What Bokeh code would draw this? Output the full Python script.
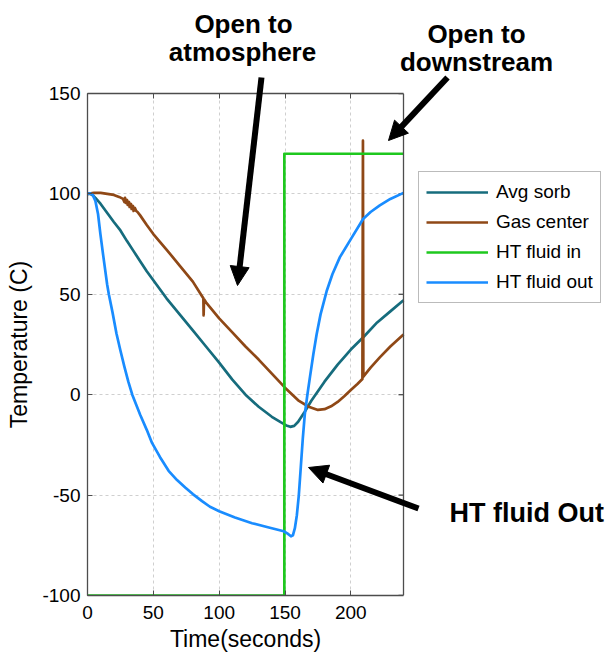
import math
from bokeh.plotting import figure
from bokeh.models import (Range1d, LinearAxis, Legend, LegendItem, FixedTicker,
                          ColumnDataSource, Span, Grid)
from bokeh.core.properties import value
from bokeh.embed import file_html
from bokeh.resources import INLINE

# ---------------- data ----------------
x_ticks = [0, 50, 100, 150, 200]
y_ticks = [-100, -50, 0, 50, 100, 150]
y_tick_labels = ["-100", "-50", "0", "50", "100", "150"]
x_title = "Time(seconds)"
y_title = "Temperature (C)"

avg_t = [0, 2, 4, 6, 8, 10, 15, 20, 25, 30, 35, 40, 45, 50, 55, 60, 70, 80, 90, 100,
         110, 120, 130, 140, 147, 151, 154, 157, 160, 165, 170, 180, 190, 200, 210,
         220, 230, 240]
avg_sorb = [100, 100, 99.3, 98, 96.5, 95, 90.5, 86, 81.8, 76.5, 71.5, 66.5, 61.5, 57,
            52.5, 48, 40, 32, 24, 16, 7.5, 0, -6, -11, -13.8, -15.3, -16, -15.5,
            -13.5, -8.5, -3, 6.5, 15, 22.5, 29, 36, 41.5, 47]

gas_t = [0, 5, 10, 15, 20, 24, 27, 28, 28.5, 29, 30, 30.5, 31.5, 32, 33, 33.5, 34.5,
         35, 36, 37, 38, 40, 45, 50, 60, 70, 80, 87, 88, 88.2, 88.5, 89.5, 90, 100, 110,
         120, 130, 140, 150, 160, 168, 175, 180, 185, 190, 195, 200, 205, 208.8, 209.2,
         209.5, 215, 222, 230, 240]
gas_center = [100, 100.5, 100.5, 100, 99.5, 98.5, 97.5, 96, 98, 95.5, 97, 94.5, 96,
              93.5, 95, 92.5, 94, 91.5, 93, 91.5, 91, 89.3, 84.5, 80, 72.3, 64.3, 56.3,
              49, 48, 39.5, 47.5, 46.5, 46, 38, 31, 24, 17.5, 10.5, 3.5, -2.8, -6, -7.6,
              -7.2, -5.8, -3.6, -0.8, 2.3, 5.3, 7.8, 126.5, 9, 13.5, 18.6, 24, 30]

fin_t = [0, 149.5, 149.5, 240]
ht_fluid_in = [-100, -100, 120, 120]

fout_t = [0, 2, 4, 6, 8, 9.8, 12, 14.9, 16.2, 19, 22, 25, 28, 31, 34, 37, 40, 45, 49,
          55, 61.6, 68, 74.2, 80, 87, 93, 100, 112, 125, 137, 149, 152, 154.5, 156,
          157.5, 159, 160.5, 162, 163.5, 165, 167, 169, 171.5, 174, 177, 181.6, 186,
          191.7, 200, 209.3, 215, 222, 230, 240]
ht_fluid_out = [100, 100.3, 99.5, 96.5, 90, 80, 69, 55, 50, 41, 30.5, 22, 14, 6.5, 0,
                -5, -10, -17.5, -24, -31, -37.9, -42.5, -46.2, -49.5, -53, -55.8, -58,
                -61.2, -64, -66, -68, -69.2, -70.5, -70, -66.5, -60, -50, -36, -22,
                -10, 0, 9, 20, 30, 40, 51.5, 60, 68.5, 77.5, 87.5, 91, 94.3, 97.5,
                100.5]

series_names = ["Avg sorb", "Gas center", "HT fluid in", "HT fluid out"]
series_colors = ["#166c7d", "#8f4816", "#1ec81e", "#198cff"]

# ---------------- geometry ----------------
FONT = "Liberation Sans"
W, H = 612, 652
FL, FR, FT, FB = 87, 403, 93, 595          # axes box edges in pixels
X0, X1, Y0, Y1 = 0, 240, -100, 150         # axes limits
XPX = (FR - FL) / (X1 - X0)                # pixels per x unit
YPX = (FB - FT) / (Y1 - Y0)                # pixels per y unit
# plotting frame extends to the right edge of the page so the legend is not clipped
x_end = X1 + (W - FR) / XPX

p = figure(width=W, height=H, x_range=Range1d(X0, x_end), y_range=Range1d(Y0, Y1),
           output_backend="svg", toolbar_location=None,
           min_border_left=FL, min_border_right=0, min_border_top=FT,
           min_border_bottom=H - FB)
p.background_fill_color = "white"
p.border_fill_color = "white"
p.outline_line_color = None

AX = "#4d4d4d"
for ax in (p.xaxis[0], p.yaxis[0]):
    ax.axis_line_color = AX
    ax.axis_line_width = 1.3
    ax.major_tick_line_color = AX
    ax.major_tick_in = 5
    ax.major_tick_out = 0
    ax.minor_tick_line_color = None
    ax.major_label_text_font = FONT
    ax.major_label_text_font_size = "19px"
    ax.major_label_text_color = "black"
    ax.axis_label_text_font = FONT
    ax.axis_label_text_font_size = "23px"
    ax.axis_label_text_font_style = "normal"
    ax.axis_label_text_color = "black"

p.xaxis.ticker = FixedTicker(ticks=x_ticks)
p.xaxis.bounds = (X0, X1)
p.yaxis.ticker = FixedTicker(ticks=y_ticks)
p.yaxis.major_label_overrides = {t: s for t, s in zip(y_ticks, y_tick_labels)}
p.yaxis.axis_label = y_title
p.xaxis.major_label_standoff = 10
p.yaxis.major_label_standoff = 7
p.yaxis.axis_label_standoff = 7

top_ax = LinearAxis(ticker=FixedTicker(ticks=x_ticks), bounds=(X0, X1), axis_line_color=AX,
                    axis_line_width=1.3, major_tick_line_color=AX, major_tick_in=5,
                    major_tick_out=0, minor_tick_line_color=None,
                    major_label_text_font_size="1px", major_label_text_color=None,
                    major_label_standoff=0)
p.add_layout(top_ax, "above")

# right edge of the axes box with inward ticks
p.add_layout(Span(location=X1, dimension="height", line_color=AX, line_width=1.3))
tick_len = 5 / XPX
p.segment(x0=[X1 - tick_len] * len(y_ticks), y0=y_ticks, x1=[X1] * len(y_ticks),
          y1=y_ticks, line_color=AX, line_width=1.3)

p.xgrid.ticker = FixedTicker(ticks=x_ticks)
p.ygrid.ticker = FixedTicker(ticks=y_ticks)
for g in (p.xgrid[0], p.ygrid[0]):
    g.grid_line_color = "#cfcfcf"
    g.grid_line_dash = "3 3"
    g.grid_line_width = 1
if "cross_bounds" in Grid.properties():
    p.ygrid[0].cross_bounds = (X0, X1)

sources = [(avg_t, avg_sorb), (gas_t, gas_center), (fin_t, ht_fluid_in), (fout_t, ht_fluid_out)]
renderers = []
for (tt, vv), c in zip(sources, series_colors):
    src = ColumnDataSource(dict(t=tt, v=vv))
    r = p.line("t", "v", source=src, line_color=c, line_width=2.7, line_join="round")
    renderers.append(r)

legend = Legend(items=[LegendItem(label=n, renderers=[r]) for n, r in zip(series_names, renderers)],
                location=(331, 292), margin=0, padding=7, spacing=4,
                glyph_width=62, glyph_height=26, label_standoff=8,
                label_text_font=FONT, label_text_font_size="19px", label_text_color="black",
                border_line_color="#777777", border_line_width=1.2,
                background_fill_color="white", background_fill_alpha=1)
p.add_layout(legend, "center")

# ---------------- texts placed in pixels, drawn above everything ----------------
def to_data(px, py):
    return X0 + (px - FL) / XPX, Y1 - (py - FT) / YPX

callout_texts = [(243, 23, "Open to", "center", "26px", "bold"),
                 (242, 51.5, "atmosphere", "center", "26px", "bold"),
                 (476, 33, "Open to", "center", "26px", "bold"),
                 (476, 61.5, "downstream", "center", "26px", "bold"),
                 (449, 512, "HT fluid Out", "left", "27px", "bold"),
                 ((FL + FR) / 2, 638.5, x_title, "center", "23px", "normal")]
for (tx, ty, txt, al, fs, st) in callout_texts:
    dx, dy = to_data(tx, ty)
    p.text(x=[dx], y=[dy], text=[txt], text_align=al, text_baseline="middle",
           text_font=value(FONT), text_font_style=st, text_font_size=value(fs),
           text_color="black", level="overlay")

arrows_px = [(261, 77, 237, 285), (447, 77, 388, 140), (418, 508, 308, 467)]
HEAD_LEN, HEAD_W = 19, 19
sx0, sy0, sx1, sy1, hx, hy = [], [], [], [], [], []
for (xs, ys, xe, ye) in arrows_px:
    L = math.hypot(xe - xs, ye - ys)
    ux, uy = (xe - xs) / L, (ye - ys) / L
    bx, by = xe - ux * HEAD_LEN, ye - uy * HEAD_LEN
    a, b = to_data(xs, ys)
    c, d = to_data(bx + ux * 2, by + uy * 2)
    sx0.append(a); sy0.append(b); sx1.append(c); sy1.append(d)
    pts = [(xe, ye), (bx - uy * HEAD_W / 2, by + ux * HEAD_W / 2),
           (bx + uy * HEAD_W / 2, by - ux * HEAD_W / 2)]
    dp = [to_data(*pt) for pt in pts]
    hx.append([q[0] for q in dp]); hy.append([q[1] for q in dp])
p.segment(x0=sx0, y0=sy0, x1=sx1, y1=sy1, line_color="black", line_width=6,
          level="overlay")
p.patches(xs=hx, ys=hy, fill_color="black", line_color="black", line_width=1,
          level="overlay")

open("out.html", "w").write(file_html(p, INLINE))
